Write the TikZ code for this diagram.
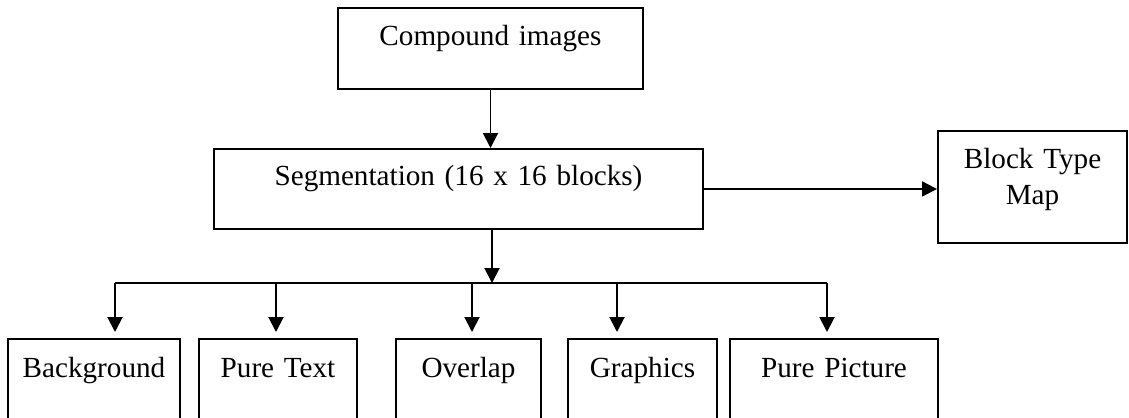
\documentclass[tikz,border=0pt]{standalone}
\usepackage{fontspec}
\setmainfont{Liberation Serif}
\usetikzlibrary{arrows.meta}

\begin{document}
\begin{tikzpicture}[>={Triangle[length=0.3cm,width=0.3cm]}, line width=1.1pt,
  box/.style = {shape=rectangle, draw, inner sep=0pt, align=center,
    anchor=north, font=\fontsize{16.6pt}{20pt}\selectfont,
    text height=0.78cm, text depth=1.06cm}]
  \useasboundingbox (0,0) rectangle (22.58,-8.34);

  \node[box, text width=6.10cm, text height=0.76cm, text depth=0.86cm] (comp) at (9.81,-0.14) {Compound images};
  \node[box, text width=9.78cm, text height=0.74cm, text depth=0.86cm] (seg) at (9.17,-2.96) {Segmentation (16 x 16 blocks)};
  \node[box, text width=3.78cm, text height=0.76cm, text depth=1.48cm] (map) at (20.65,-2.60) {Block Type\\Map};

  \node[box, text width=3.44cm] (bg) at (1.88,-6.76) {Background};
  \node[box, text width=3.16cm] (pt) at (5.56,-6.76) {Pure Text};
  \node[box, text width=2.90cm] (ov) at (9.37,-6.76) {Overlap};
  \node[box, text width=2.98cm] (gr) at (12.85,-6.76) {Graphics};
  \node[box, text width=4.16cm] (pp) at (16.68,-6.76) {Pure Picture};

  \coordinate (bus) at (9.84,-5.66);
  \coordinate (dbg) at (2.30,-5.66);
  \coordinate (dpt) at (5.52,-5.66);
  \coordinate (dov) at (9.44,-5.66);
  \coordinate (dgr) at (12.34,-5.66);
  \coordinate (dpp) at (16.54,-5.66);

  \draw[->] (comp.south) -- (comp.south |- seg.north);
  \draw[->] (seg.east) -- (seg.east -| map.west);
  \draw[->] (seg.south -| bus) -- (bus);
  \draw (dbg) -- (dpp);
  \foreach \d/\b in {dbg/bg, dpt/pt, dov/ov, dgr/gr, dpp/pp}
    \draw[->, shorten >=0.12cm] (\d) -- (\d |- \b.north);

\end{tikzpicture}
\end{document}
